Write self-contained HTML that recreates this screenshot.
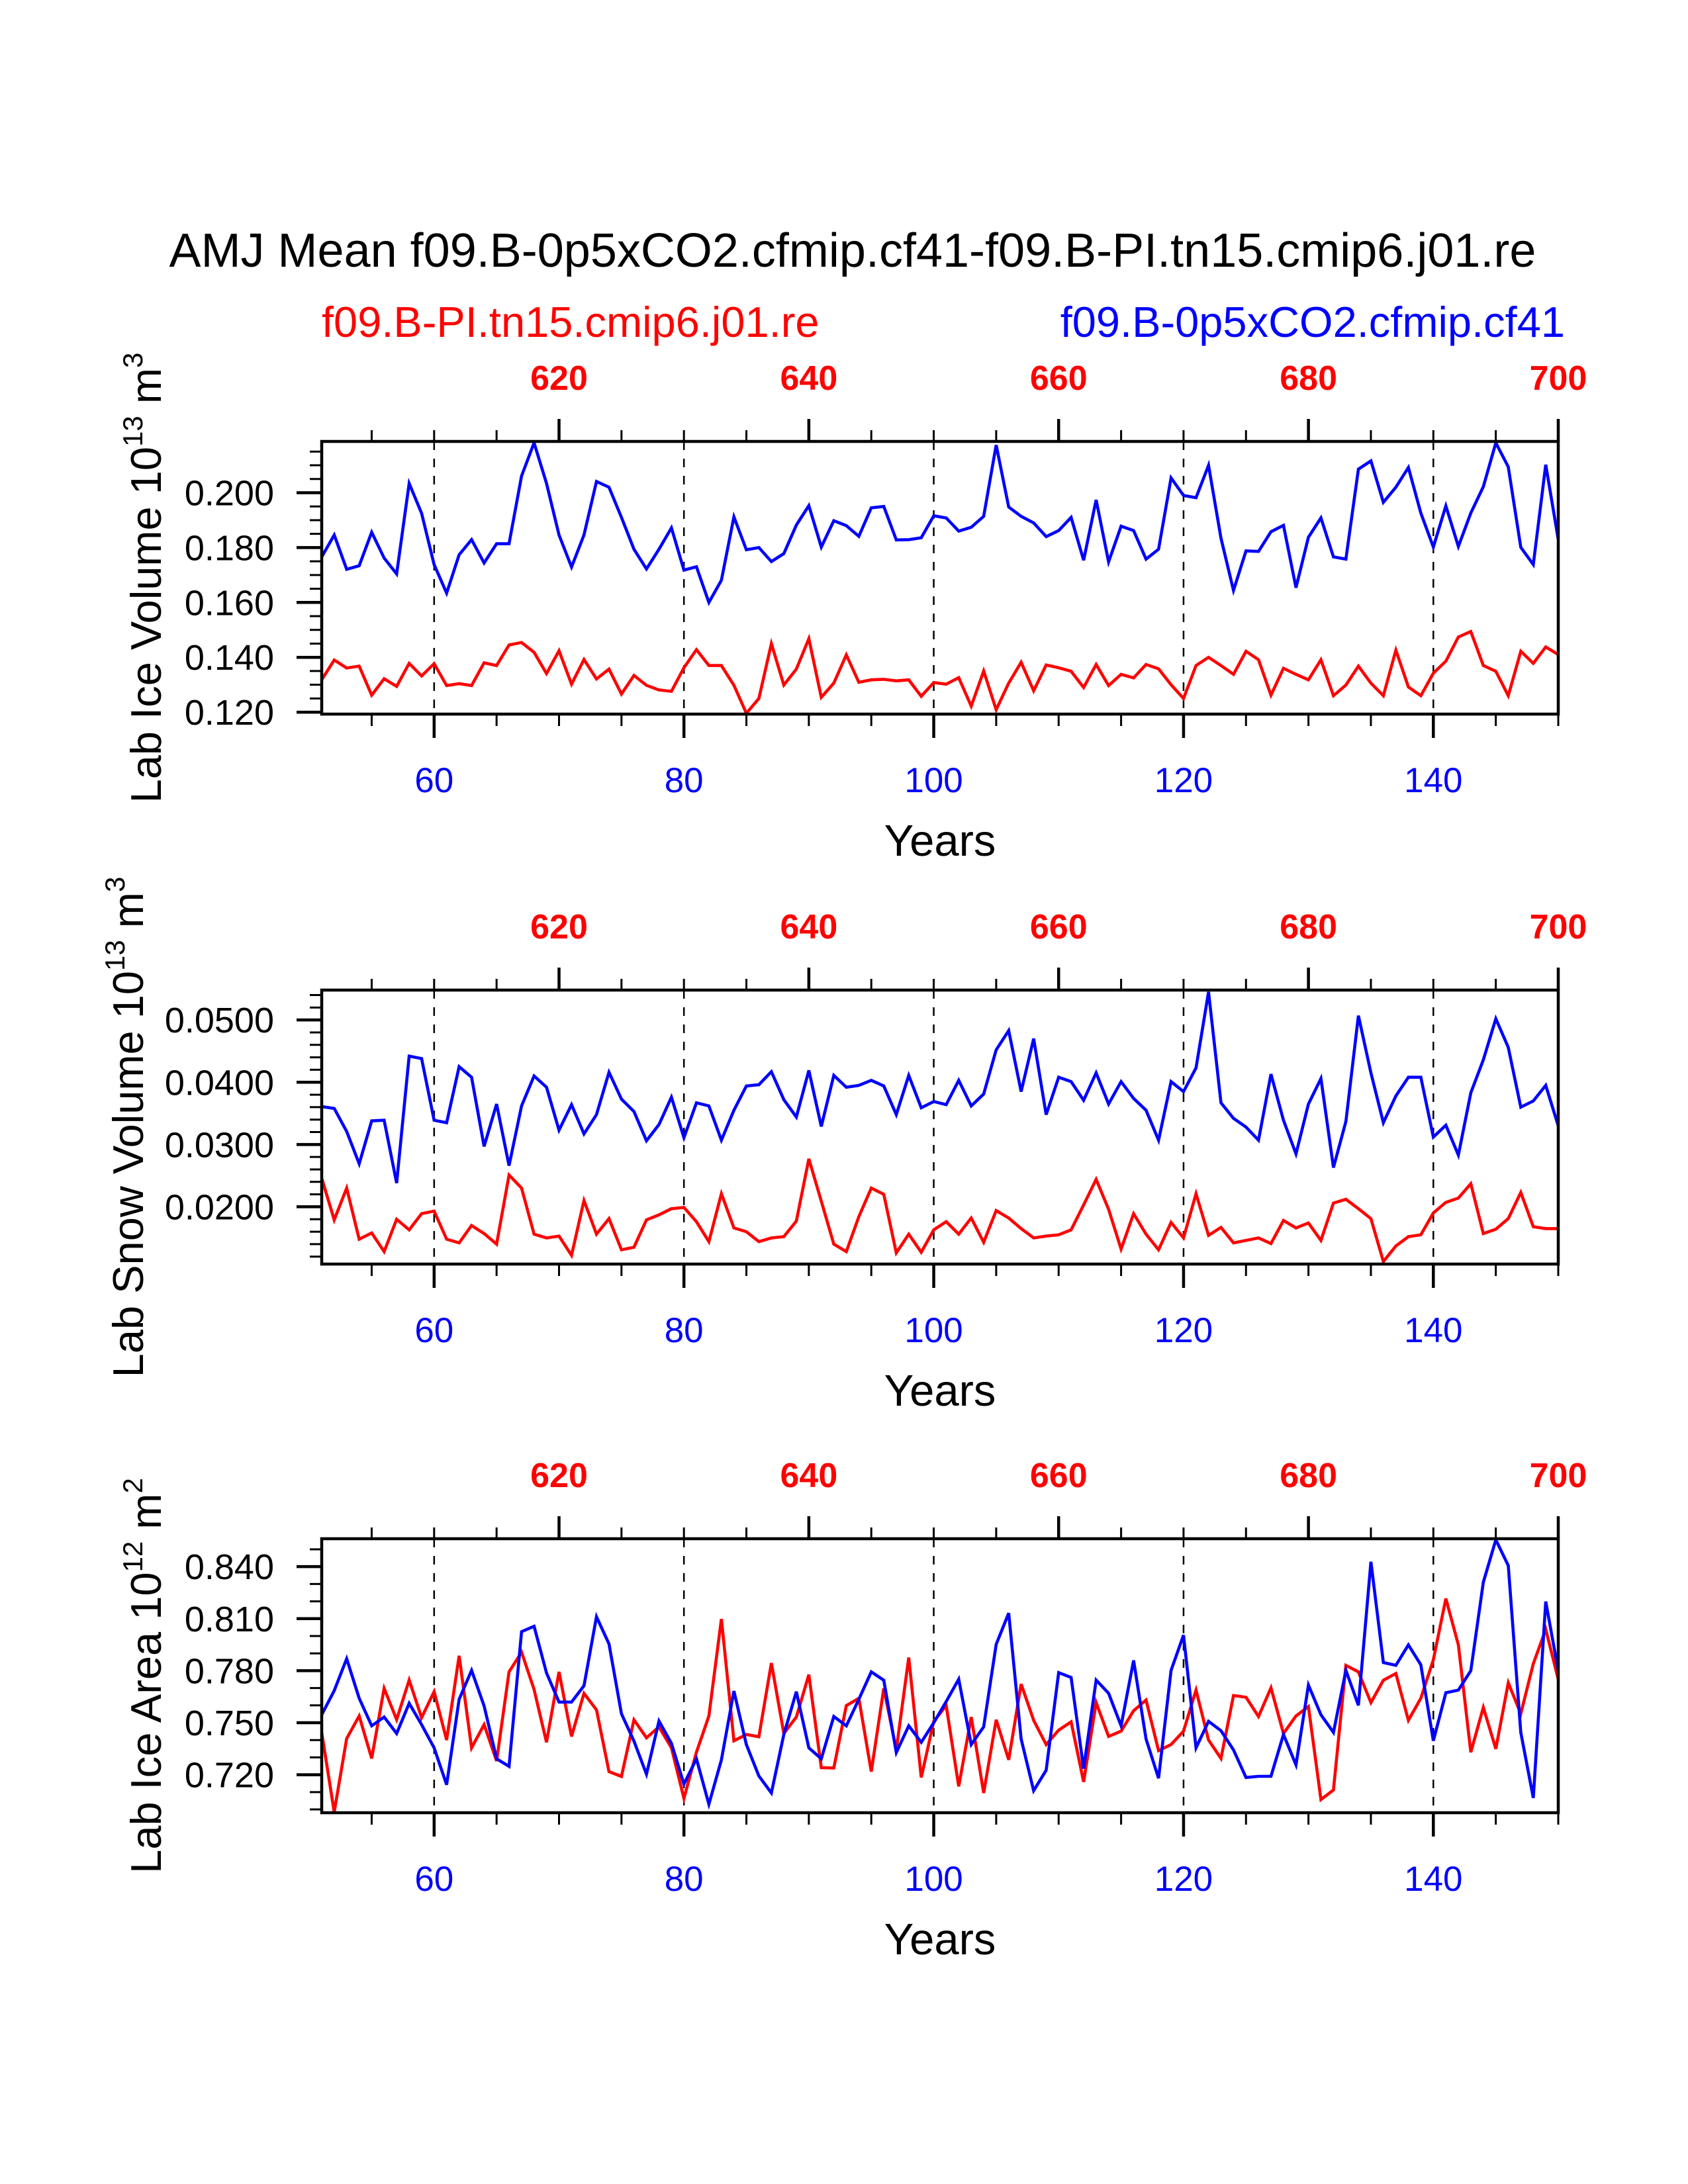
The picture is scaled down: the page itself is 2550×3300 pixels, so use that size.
<!DOCTYPE html>
<html><head><meta charset="utf-8">
<style>
html,body{margin:0;padding:0;background:#fff;}
svg{display:block;}
text{font-family:"Liberation Sans",Arial,sans-serif;}
</style></head>
<body>
<svg id="chart" width="2550" height="3300" viewBox="0 0 2550 3300" xmlns="http://www.w3.org/2000/svg">
<rect width="2550" height="3300" fill="#fff"/>
<text x="1288" y="403" font-size="72" text-anchor="middle" fill="#000">AMJ Mean f09.B-0p5xCO2.cfmip.cf41-f09.B-PI.tn15.cmip6.j01.re</text>
<text x="486" y="509" font-size="65" fill="#ff0000">f09.B-PI.tn15.cmip6.j01.re</text>
<text x="2364" y="509" font-size="65" text-anchor="end" fill="#0000ff">f09.B-0p5xCO2.cfmip.cf41</text>
<g id="panels"></g>
</svg>
<script>
// categories
const yearStart = 51;
const yearCount = 100;
const bottomTickLabels = [60, 80, 100, 120, 140];
const topTickLabels = [620, 640, 660, 680, 700];
const topOffset = 550;

// panel 1: Lab Ice Volume
const p1Blue = [0.1766,0.1846,0.1721,0.1734,0.1856,0.1762,0.1704,0.2034,0.1925,0.1738,
0.1634,0.1774,0.1829,0.1744,0.1814,0.1814,0.2061,0.2182,0.2034,0.1846,
0.1729,0.1846,0.2041,0.2020,0.1910,0.1794,0.1722,0.1794,0.1872,0.1718,
0.1730,0.1600,0.1681,0.1912,0.1792,0.1800,0.1749,0.1778,0.1882,0.1953,
0.1802,0.1898,0.1880,0.1841,0.1945,0.1950,0.1828,0.1829,0.1836,0.1916,
0.1908,0.1860,0.1874,0.1914,0.2174,0.1948,0.1914,0.1890,0.1840,0.1862,
0.1910,0.1754,0.1974,0.1748,0.1878,0.1862,0.1758,0.1794,0.2054,0.1990,
0.1982,0.2100,0.1834,0.1644,0.1788,0.1786,0.1858,0.1881,0.1654,0.1838,
0.1908,0.1766,0.1758,0.2086,0.2116,0.1965,0.2020,0.2092,0.1926,0.1802,
0.1952,0.1804,0.1926,0.2022,0.2182,0.2094,0.1801,0.1738,0.2102,0.1830];
const p1Red = [0.1318,0.1390,0.1361,0.1368,0.1262,0.1322,0.1294,0.1378,0.1332,0.1377,
0.1297,0.1304,0.1297,0.1380,0.1370,0.1445,0.1454,0.1418,0.1341,0.1424,
0.1302,0.1392,0.1321,0.1357,0.1266,0.1334,0.1298,0.1281,0.1276,0.1362,
0.1428,0.1370,0.1370,0.1298,0.1196,0.1250,0.1450,0.1299,0.1357,0.1468,
0.1254,0.1306,0.1409,0.1309,0.1318,0.1320,0.1314,0.1318,0.1258,0.1308,
0.1302,0.1326,0.1222,0.1350,0.1209,0.1306,0.1382,0.1278,0.1372,0.1362,
0.1349,0.1290,0.1374,0.1297,0.1338,0.1325,0.1374,0.1358,0.1300,0.1250,
0.1370,0.1400,0.1370,0.1338,0.1422,0.1391,0.1262,0.1360,0.1338,0.1318,
0.1391,0.1260,0.1299,0.1368,0.1306,0.1260,0.1426,0.1292,0.1260,0.1342,
0.1386,0.1474,0.1494,0.1370,0.1349,0.1260,0.1422,0.1378,0.1438,0.1410];
const p1Ticks = [0.120, 0.140, 0.160, 0.180, 0.200];

// panel 2: Lab Snow Volume
const p2Blue = [0.0361,0.0358,0.0321,0.0269,0.0338,0.0339,0.0238,0.0442,0.0438,0.0339,
0.0335,0.0425,0.0408,0.0297,0.0365,0.0266,0.0362,0.0410,0.0392,0.0323,
0.0364,0.0317,0.0348,0.0416,0.0373,0.0353,0.0306,0.0332,0.0376,0.0311,
0.0367,0.0362,0.0307,0.0355,0.0394,0.0396,0.0417,0.0372,0.0344,0.0419,
0.0329,0.0411,0.0392,0.0395,0.0403,0.0394,0.0348,0.0411,0.0359,0.0369,
0.0364,0.0403,0.0362,0.0381,0.0452,0.0483,0.0385,0.0470,0.0348,0.0408,
0.0401,0.0371,0.0415,0.0365,0.0401,0.0374,0.0355,0.0307,0.0401,0.0385,
0.0423,0.0545,0.0367,0.0342,0.0328,0.0307,0.0413,0.0339,0.0285,0.0365,
0.0406,0.0263,0.0337,0.0507,0.0415,0.0335,0.0378,0.0408,0.0408,0.0312,
0.0331,0.0283,0.0383,0.0436,0.0502,0.0456,0.0360,0.0370,0.0395,0.0330];
const p2Red = [0.0246,0.0179,0.0230,0.0148,0.0158,0.0128,0.0180,0.0163,0.0189,0.0193,
0.0148,0.0142,0.0170,0.0157,0.0140,0.0251,0.0230,0.0156,0.0150,0.0153,
0.0122,0.0210,0.0156,0.0181,0.0131,0.0135,0.0179,0.0187,0.0197,0.0199,
0.0176,0.0144,0.0221,0.0166,0.0160,0.0144,0.0150,0.0152,0.0177,0.0277,
0.0209,0.0140,0.0128,0.0184,0.0230,0.0220,0.0126,0.0156,0.0127,0.0163,
0.0176,0.0156,0.0182,0.0143,0.0194,0.0182,0.0165,0.0150,0.0153,0.0155,
0.0163,0.0203,0.0244,0.0196,0.0132,0.0189,0.0156,0.0131,0.0175,0.0150,
0.0221,0.0154,0.0167,0.0142,0.0146,0.0150,0.0141,0.0178,0.0166,0.0174,
0.0146,0.0206,0.0212,0.0197,0.0181,0.0112,0.0137,0.0152,0.0155,0.0190,
0.0207,0.0214,0.0237,0.0157,0.0164,0.0181,0.0223,0.0168,0.0165,0.0165];
const p2Ticks = [0.0200, 0.0300, 0.0400, 0.0500];

// panel 3: Lab Ice Area
const p3Blue = [0.7546,0.7685,0.7869,0.7641,0.7482,0.7533,0.7438,0.7612,0.7489,0.7355,
0.7142,0.7635,0.7802,0.7597,0.7292,0.7248,0.8025,0.8056,0.7787,0.7619,
0.7619,0.7713,0.8111,0.7954,0.7552,0.7394,0.7203,0.7510,0.7381,0.7146,
0.7292,0.7030,0.7286,0.7683,0.7374,0.7193,0.7095,0.7432,0.7679,0.7355,
0.7292,0.7536,0.7482,0.7635,0.7793,0.7745,0.7328,0.7482,0.7387,0.7500,
0.7622,0.7751,0.7374,0.7476,0.7952,0.8132,0.7406,0.7108,0.7226,0.7789,
0.7761,0.7235,0.7746,0.7670,0.7482,0.7859,0.7406,0.7180,0.7802,0.8005,
0.7355,0.7508,0.7454,0.7343,0.7184,0.7191,0.7191,0.7432,0.7257,0.7717,
0.7546,0.7444,0.7802,0.7600,0.8428,0.7847,0.7831,0.7949,0.7834,0.7396,
0.7673,0.7688,0.7800,0.8310,0.8555,0.8406,0.7444,0.7066,0.8199,0.7800];
const p3Red = [0.7444,0.6985,0.7409,0.7539,0.7294,0.7698,0.7518,0.7746,0.7529,0.7679,
0.7400,0.7886,0.7355,0.7489,0.7279,0.7793,0.7907,0.7692,0.7387,0.7793,
0.7421,0.7669,0.7574,0.7218,0.7190,0.7517,0.7413,0.7476,0.7355,0.7064,
0.7330,0.7539,0.8098,0.7396,0.7432,0.7419,0.7844,0.7438,0.7533,0.7777,
0.7241,0.7239,0.7599,0.7641,0.7218,0.7698,0.7343,0.7876,0.7184,0.7508,
0.7599,0.7133,0.7533,0.7095,0.7517,0.7286,0.7723,0.7514,0.7374,0.7457,
0.7505,0.7159,0.7616,0.7421,0.7451,0.7569,0.7631,0.7339,0.7374,0.7451,
0.7688,0.7400,0.7294,0.7657,0.7647,0.7536,0.7701,0.7438,0.7539,0.7593,
0.7057,0.7112,0.7831,0.7793,0.7616,0.7745,0.7784,0.7514,0.7641,0.7863,
0.8216,0.7949,0.7330,0.7588,0.7349,0.7730,0.7552,0.7840,0.8038,0.7750];
const p3Ticks = [0.720, 0.750, 0.780, 0.810, 0.840];

const NS = 'http://www.w3.org/2000/svg';
const root = document.getElementById('panels');
const X0 = 486, X1 = 2354;
const years = Array.from({length: yearCount}, (_, i) => yearStart + i);
function xs(yr){ return X0 + (yr - 51) * (X1 - X0) / 99; }

function mk(tag, attrs, parent){
  const e = document.createElementNS(NS, tag);
  for (const k in attrs) e.setAttribute(k, attrs[k]);
  (parent || root).appendChild(e);
  return e;
}

const panels = [
  {key:'ice-volume', top:667, bot:1079, ymin:0.1193, ymax:0.2187, ticks:p1Ticks, dec:3, minor:0.005, minorStart:0.120, blue:p1Blue, red:p1Red, label:'Lab Ice Volume 10', exp:'13', unit:' m', uexp:'3', titleX:221},
  {key:'snow-volume', top:1496, bot:1910, ymin:0.0108, ymax:0.0548, ticks:p2Ticks, dec:4, minor:0.002, minorStart:0.012, blue:p2Blue, red:p2Red, label:'Lab Snow Volume 10', exp:'13', unit:' m', uexp:'3', titleX:194},
  {key:'ice-area', top:2325, bot:2739, ymin:0.6981, ymax:0.8561, ticks:p3Ticks, dec:3, minor:0.01, minorStart:0.70, blue:p3Blue, red:p3Red, label:'Lab Ice Area 10', exp:'12', unit:' m', uexp:'2', titleX:221}
];

panels.forEach((p, pi) => {
  const g = mk('g', {});
  
  
  const ys = v => p.bot - (v - p.ymin) / (p.ymax - p.ymin) * (p.bot - p.top);

  const cp = mk('clipPath', {id: 'clip' + pi}, g);
  mk('rect', {x: X0, y: p.top, width: X1 - X0, height: p.bot - p.top}, cp);

  bottomTickLabels.forEach(yr => {
    const l = mk('line', {x1: xs(yr), x2: xs(yr), y1: p.top, y2: p.bot, stroke: '#000', 'stroke-width': 2.5, 'stroke-dasharray': '13 13'}, g);
    
    
  });

  [['red', p.red, '#ff0000'], ['blue', p.blue, '#0000ff']].forEach(([nm, arr, col]) => {
    const pts = arr.map((v, i) => xs(years[i]).toFixed(1) + ',' + ys(v).toFixed(1)).join(' ');
    const pl = mk('polyline', {points: pts, fill: 'none', stroke: col, 'stroke-width': 4.6, 'stroke-linejoin': 'miter', 'clip-path': 'url(#clip' + pi + ')'}, g);
    
    
  });

  const fr = mk('rect', {x: X0, y: p.top, width: X1 - X0, height: p.bot - p.top, fill: 'none', stroke: '#000', 'stroke-width': 4.5}, g);
  
  

  for (let yr = 55; yr <= 150; yr += 5) {
    const major = yr % 20 === 0 && yr <= 140;
    mk('line', {x1: xs(yr), x2: xs(yr), y1: p.bot, y2: p.bot + (major ? 36 : 18), stroke: '#000', 'stroke-width': major ? 4.5 : 3}, g);
    const tmajor = (yr - 70) % 20 === 0 && yr >= 70;
    mk('line', {x1: xs(yr), x2: xs(yr), y1: p.top, y2: p.top - (tmajor ? 34 : 17), stroke: '#000', 'stroke-width': tmajor ? 4.5 : 3}, g);
  }
  bottomTickLabels.forEach(yr => {
    const t = mk('text', {x: xs(yr), y: p.bot + 118, 'font-size': 53, 'text-anchor': 'middle', fill: '#0000ff'}, g);
    t.textContent = yr;
    
    
  });
  topTickLabels.forEach(lbl => {
    const t = mk('text', {x: xs(lbl - topOffset), y: p.top - 78, 'font-size': 52, 'font-weight': 'bold', 'text-anchor': 'middle', fill: '#ff0000'}, g);
    t.textContent = lbl;
    
    
  });
  const xt = mk('text', {x: (X0 + X1) / 2, y: p.bot + 214, 'font-size': 67, 'text-anchor': 'middle', fill: '#000'}, g);
  xt.textContent = 'Years';
  
  

  for (let v = p.minorStart; v <= p.ymax + 1e-9; v += p.minor) {
    mk('line', {x1: X0, x2: X0 - 18, y1: ys(v), y2: ys(v), stroke: '#000', 'stroke-width': 3}, g);
  }
  p.ticks.forEach(v => {
    mk('line', {x1: X0, x2: X0 - 38, y1: ys(v), y2: ys(v), stroke: '#000', 'stroke-width': 4.5}, g);
    const t = mk('text', {x: X0 - 72, y: ys(v) + 19, 'font-size': 54, 'text-anchor': 'end', fill: '#000'}, g);
    t.textContent = v.toFixed(p.dec);
    
    
  });

  const cy = (p.top + p.bot) / 2;
  const yt = mk('text', {x: 0, y: 0, 'font-size': 65, 'text-anchor': 'middle', fill: '#000', transform: 'translate(' + (p.titleX + 22) + ',' + cy + ') rotate(-90)'}, g);
  
  
  const s1 = mk('tspan', {}, yt); s1.textContent = p.label;
  const s2 = mk('tspan', {dy: -28, 'font-size': 42}, yt); s2.textContent = p.exp;
  const s3 = mk('tspan', {dy: 28}, yt); s3.textContent = p.unit;
  const s4 = mk('tspan', {dy: -28, 'font-size': 42}, yt); s4.textContent = p.uexp;
});
</script>
</body></html>
